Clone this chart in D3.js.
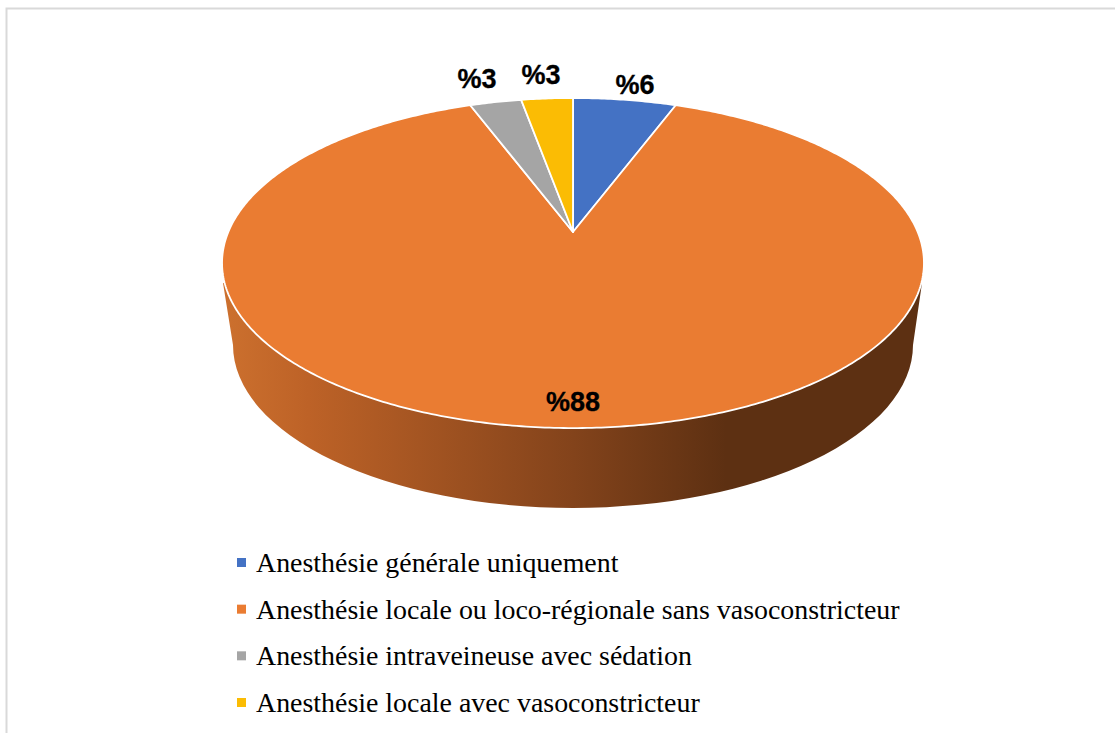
<!DOCTYPE html>
<html><head><meta charset="utf-8">
<script src="https://cdn.jsdelivr.net/npm/d3@7"></script>
<style>html,body{margin:0;padding:0;background:#fff}svg{display:block}</style></head>
<body><svg id="c" width="1115" height="733"></svg>
<script>
const categories = ["Anesthésie générale uniquement","Anesthésie locale ou loco-régionale sans vasoconstricteur","Anesthésie intraveineuse avec sédation","Anesthésie locale avec vasoconstricteur"];
const values = [5.7, 88.6, 2.85, 2.85];
const valueLabels = ["%6","%88","%3","%3"];
const colors = ["#4472C4","#EA7C32","#A5A5A5","#FBBC04"];
const sideStops = [[0,"#cc702e"],[0.12,"#bd6227"],[0.5,"#83431b"],[0.72,"#5d3012"],[1,"#5d3012"]];

const W=1115,H=733;
const svg=d3.select("#c");
svg.append("rect").attr("x",6.5).attr("y",8.5).attr("width",1150).attr("height",800).attr("fill","#fff").attr("stroke","#d9d9d9").attr("stroke-width",2);

// perspective view of a disc
const ax=573, ay=232, k=0.188, A=159.2, B=344.7;
const proj=(a,r=1)=>{const x=r*Math.sin(a),y=r*Math.cos(a),w=1+k*y;return [ax+B*x/w, ay-A*y/w];};
const pie=d3.pie().sort(null).value(d=>d);
const arcs=pie(values);

const defs=svg.append("defs");
const g=defs.append("linearGradient").attr("id","side").attr("gradientUnits","userSpaceOnUse").attr("x1",225).attr("x2",921).attr("y1",0).attr("y2",0);
sideStops.forEach(s=>g.append("stop").attr("offset",s[0]).attr("stop-color",s[1]));

// side wall
const ecx=573, tcy=263, trx=351, bcy=345, brx=340, bry=163;
const wall=`M${ecx-trx+1},${tcy+20} L${ecx-brx},${bcy} A${brx},${bry} 0 0 0 ${ecx+brx},${bcy} L${ecx+trx-2},${tcy+20} Z`;
svg.append("path").attr("d",wall).attr("fill","url(#side)");

// top face
const line=d3.line();
const sector=d=>{const n=Math.max(4,Math.ceil((d.endAngle-d.startAngle)*90));
  const pts=[[ax,ay]];for(let i=0;i<=n;i++)pts.push(proj(d.startAngle+(d.endAngle-d.startAngle)*i/n));
  return line(pts)+"Z";};
svg.append("g").selectAll("path").data(arcs).join("path")
  .attr("d",sector).attr("fill",(d,i)=>colors[i]).attr("stroke","#fff").attr("stroke-width",1.8).attr("stroke-linejoin","round");

// data labels
const labelPos=[[635,85],[573,402],[477,79],[541,75]];
svg.append("g").selectAll("text").data(valueLabels).join("text")
  .attr("x",(d,i)=>labelPos[i][0]).attr("y",(d,i)=>labelPos[i][1]).attr("dy","0.35em")
  .attr("text-anchor","middle").attr("font-family","Liberation Sans").attr("font-weight","bold").attr("font-size",27)
  .attr("fill","#000").attr("stroke","#000").attr("stroke-width",0.3).text(d=>d);

// legend
const ly=d3.scalePoint().domain(categories).range([563,703]);
const leg=svg.append("g").selectAll("g").data(categories).join("g").attr("transform",d=>`translate(0,${ly(d)})`);
leg.append("rect").attr("x",237).attr("y",-5).attr("width",9).attr("height",9).attr("fill",(d,i)=>colors[i]);
leg.append("text").attr("x",256).attr("y",9).attr("font-family","Liberation Serif").attr("font-size",27.9).attr("fill","#000").text(d=>d);
</script></body></html>
